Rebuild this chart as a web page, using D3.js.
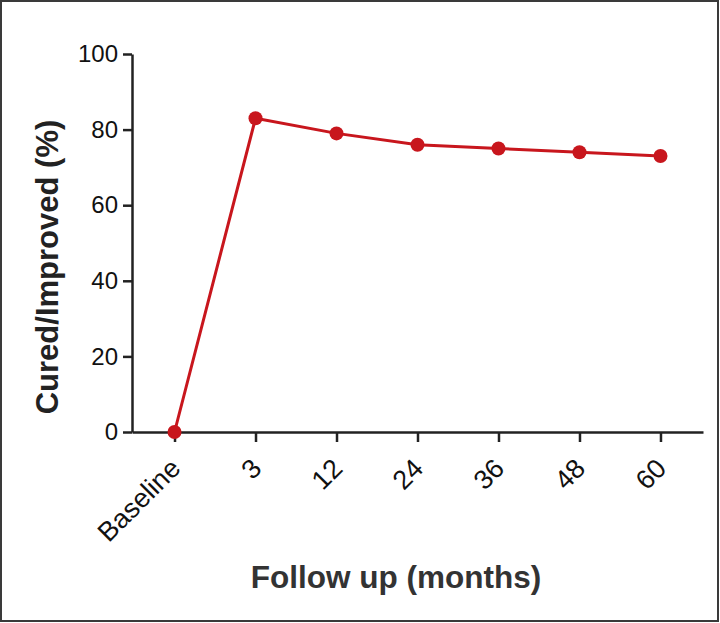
<!DOCTYPE html>
<html>
<head>
<meta charset="utf-8">
<script src="https://cdn.jsdelivr.net/npm/d3@7"></script>
<style>
  body { margin: 0; background: #fff; }
  text { font-family: "Liberation Sans", Arial, Helvetica, sans-serif; }
</style>
</head>
<body>
<div id="chart"></div>
<script>
'use strict';

// chart data
var months = ["Baseline", "3", "12", "24", "36", "48", "60"];
var curedImproved = [0, 83, 79, 76, 75, 74, 73];
var yTicks = [0, 20, 40, 60, 80, 100];

var width = 720, height = 623;
var lineColor = "#c8161d";

var svg = d3.select("#chart")
    .append("svg")
    .attr("width", width)
    .attr("height", height);

// outer frame
svg.append("rect")
    .attr("x", 1).attr("y", 1)
    .attr("width", width - 3).attr("height", height - 3)
    .attr("fill", "none")
    .attr("stroke", "#3a3a3a")
    .attr("stroke-width", 2);

var x = d3.scalePoint()
    .domain(months)
    .range([132, 703])
    .padding(0.525);

var y = d3.scaleLinear()
    .domain([0, 100])
    .range([432, 54]);

// y axis
var yAxis = svg.append("g")
    .attr("transform", "translate(132,0)")
    .call(d3.axisLeft(y).tickValues(yTicks).tickSize(9).tickSizeOuter(0).tickPadding(5));
yAxis.select(".domain").attr("stroke", "#222").attr("stroke-width", 2.5);
yAxis.selectAll(".tick line").attr("stroke", "#222").attr("stroke-width", 2.5);
yAxis.selectAll(".tick text")
    .attr("fill", "#111")
    .style("font-size", "24px");

// x axis
var xAxis = svg.append("g")
    .attr("transform", "translate(0,432)")
    .call(d3.axisBottom(x).tickSize(10).tickSizeOuter(0));
xAxis.select(".domain").attr("stroke", "#222").attr("stroke-width", 2.5);
xAxis.selectAll(".tick line").attr("stroke", "#222").attr("stroke-width", 2.5);
xAxis.selectAll(".tick text")
    .attr("fill", "#111")
    .style("font-size", "27px")
    .attr("text-anchor", "end")
    .attr("x", 0).attr("y", 0).attr("dy", 0)
    .attr("transform", "translate(7,38) rotate(-45)");

// line + dots
var line = d3.line()
    .x(function(d, i) { return x(months[i]); })
    .y(function(d) { return y(d); });

svg.append("path")
    .datum(curedImproved)
    .attr("d", line)
    .attr("fill", "none")
    .attr("stroke", lineColor)
    .attr("stroke-width", 3);

svg.selectAll("circle.pt")
    .data(curedImproved)
    .enter()
    .append("circle")
    .attr("class", "pt")
    .attr("cx", function(d, i) { return x(months[i]); })
    .attr("cy", function(d) { return y(d); })
    .attr("r", 7)
    .attr("fill", lineColor);

// axis titles
svg.append("text")
    .attr("transform", "translate(58,267) rotate(-90)")
    .attr("text-anchor", "middle")
    .attr("fill", "#222")
    .style("font-size", "31px")
    .style("font-weight", "bold")
    .text("Cured/Improved (%)");

svg.append("text")
    .attr("x", 396)
    .attr("y", 588)
    .attr("text-anchor", "middle")
    .attr("fill", "#333")
    .style("font-size", "31.5px")
    .style("font-weight", "bold")
    .text("Follow up (months)");
</script>
</body>
</html>
